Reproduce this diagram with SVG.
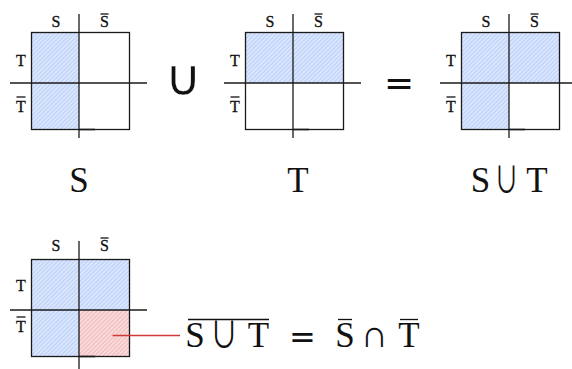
<svg xmlns="http://www.w3.org/2000/svg" width="572" height="369" viewBox="0 0 572 369">
<defs>
<pattern id="hb" patternUnits="userSpaceOnUse" width="3" height="3" patternTransform="rotate(45)">
<rect width="3" height="3" fill="#c4d6fa"/>
<rect width="0.9" height="3" fill="#eaf1fe"/>
</pattern>
<pattern id="hr" patternUnits="userSpaceOnUse" width="3" height="3" patternTransform="rotate(45)">
<rect width="3" height="3" fill="#f4c4c4"/>
<rect width="0.9" height="3" fill="#fcecec"/>
</pattern>
<style>
.sq{fill:none;stroke:#1a1a1a;stroke-width:1.3}
.ln{stroke:#1a1a1a;stroke-width:1.3}
.tk{stroke:#1a1a1a;stroke-width:1.6}
.sm{font-family:"Liberation Serif",serif;font-size:16px;fill:#111;text-anchor:middle;stroke:#111;stroke-width:0.3}
.bg{font-family:"Liberation Serif",serif;font-size:35px;fill:#111;text-anchor:middle}
.sy{font-family:"DejaVu Sans",sans-serif;fill:#111;text-anchor:middle}
.op{font-family:"DejaVu Sans",sans-serif;font-weight:200;fill:#111;text-anchor:middle}
.cu{font-family:"Noto Sans CJK JP","DejaVu Sans",sans-serif;font-weight:400;fill:#111;text-anchor:middle}
.bar{stroke:#111;stroke-width:1.3}
</style>
</defs>

<g id="d1">
<rect x="31.5" y="32.5" width="47.5" height="97" fill="url(#hb)"/>
<rect class="sq" x="31.5" y="32.5" width="98" height="97"/>
<line class="ln" x1="79" y1="14" x2="79" y2="138"/>
<line class="ln" x1="10" y1="83" x2="147" y2="83"/>
<line class="tk" x1="79" y1="129.5" x2="95" y2="129.5"/>
<text class="sm" x="56" y="26.5">S</text>
<text class="sm" x="104.5" y="26.5">S</text><line class="bar" x1="100.5" y1="14" x2="108.5" y2="14"/>
<text class="sm" x="21" y="66">T</text>
<text class="sm" x="21" y="112">T</text><line class="bar" x1="16.5" y1="97" x2="25.5" y2="97"/>
</g>

<g id="union1"><text class="sy" x="183" y="95" font-size="50" stroke="#fff" stroke-width="0.3">∪</text></g>

<g id="d2" transform="translate(214,0)">
<rect x="31.5" y="32.5" width="98" height="50.5" fill="url(#hb)"/>
<rect class="sq" x="31.5" y="32.5" width="98" height="97"/>
<line class="ln" x1="79" y1="14" x2="79" y2="138"/>
<line class="ln" x1="10" y1="83" x2="147" y2="83"/>
<line class="tk" x1="79" y1="129.5" x2="95" y2="129.5"/>
<text class="sm" x="56" y="26.5">S</text>
<text class="sm" x="104.5" y="26.5">S</text><line class="bar" x1="100.5" y1="14" x2="108.5" y2="14"/>
<text class="sm" x="21" y="66">T</text>
<text class="sm" x="21" y="112">T</text><line class="bar" x1="16.5" y1="97" x2="25.5" y2="97"/>
</g>

<g id="equals1"><text class="sy" x="399" y="95" font-size="36">=</text></g>

<g id="d3" transform="translate(430,0)">
<path d="M31.5 32.5H129.5V83H79V129.5H31.5Z" fill="url(#hb)"/>
<rect class="sq" x="31.5" y="32.5" width="98" height="97"/>
<line class="ln" x1="79" y1="14" x2="79" y2="138"/>
<line class="ln" x1="10" y1="83" x2="147" y2="83"/>
<line class="tk" x1="79" y1="129.5" x2="95" y2="129.5"/>
<text class="sm" x="56" y="26.5">S</text>
<text class="sm" x="104.5" y="26.5">S</text><line class="bar" x1="100.5" y1="14" x2="108.5" y2="14"/>
<text class="sm" x="21" y="66">T</text>
<text class="sm" x="21" y="112">T</text><line class="bar" x1="16.5" y1="97" x2="25.5" y2="97"/>
</g>

<g id="label-S"><text class="bg" x="79" y="192">S</text></g>
<g id="label-T"><text class="bg" x="298" y="192">T</text></g>
<g id="label-SuT">
<text class="bg" x="480.5" y="192">S</text>
<text class="cu" transform="translate(506.5,193) scale(0.68,1)" x="0" y="0" font-size="36">∪</text>
<text class="bg" x="537" y="192">T</text>
</g>

<g id="d4" transform="translate(0,227)">
<path d="M31.5 32.5H129.5V83H79V129.5H31.5Z" fill="url(#hb)"/>
<rect x="79" y="83" width="50.5" height="46.5" fill="url(#hr)"/>
<rect class="sq" x="31.5" y="32.5" width="98" height="97"/>
<line class="ln" x1="79" y1="14" x2="79" y2="142"/>
<line class="ln" x1="10" y1="83" x2="147" y2="83"/>
<line class="tk" x1="79" y1="129.5" x2="95" y2="129.5"/>
<text class="sm" x="56" y="23.5">S</text>
<text class="sm" x="104.5" y="23.5">S</text><line class="bar" x1="100.5" y1="11" x2="108.5" y2="11"/>
<text class="sm" x="21" y="64">T</text>
<text class="sm" x="21" y="105">T</text><line class="bar" x1="16.5" y1="90" x2="25.5" y2="90"/>
</g>

<g id="connectors">
<line x1="112.5" y1="335.5" x2="180" y2="335.5" stroke="#d23a3a" stroke-width="1.3"/>
</g>

<g id="formula">
<line class="bar" x1="188" y1="319.5" x2="269" y2="319.5"/>
<text class="bg" x="195" y="347" font-size="33">S</text>
<text class="cu" transform="translate(224,348) scale(0.78,1)" x="0" y="0" font-size="36">∪</text>
<text class="bg" x="258.5" y="347" font-size="33">T</text>
<text class="sy" x="302.5" y="348" font-size="32">=</text>
<line class="bar" x1="338" y1="319.5" x2="352" y2="319.5"/>
<text class="bg" x="345" y="347" font-size="33">S</text>
<text class="op" x="374.5" y="347" font-size="38">∩</text>
<line class="bar" x1="400" y1="319.5" x2="418" y2="319.5"/>
<text class="bg" x="409" y="347" font-size="33">T</text>
</g>
</svg>
